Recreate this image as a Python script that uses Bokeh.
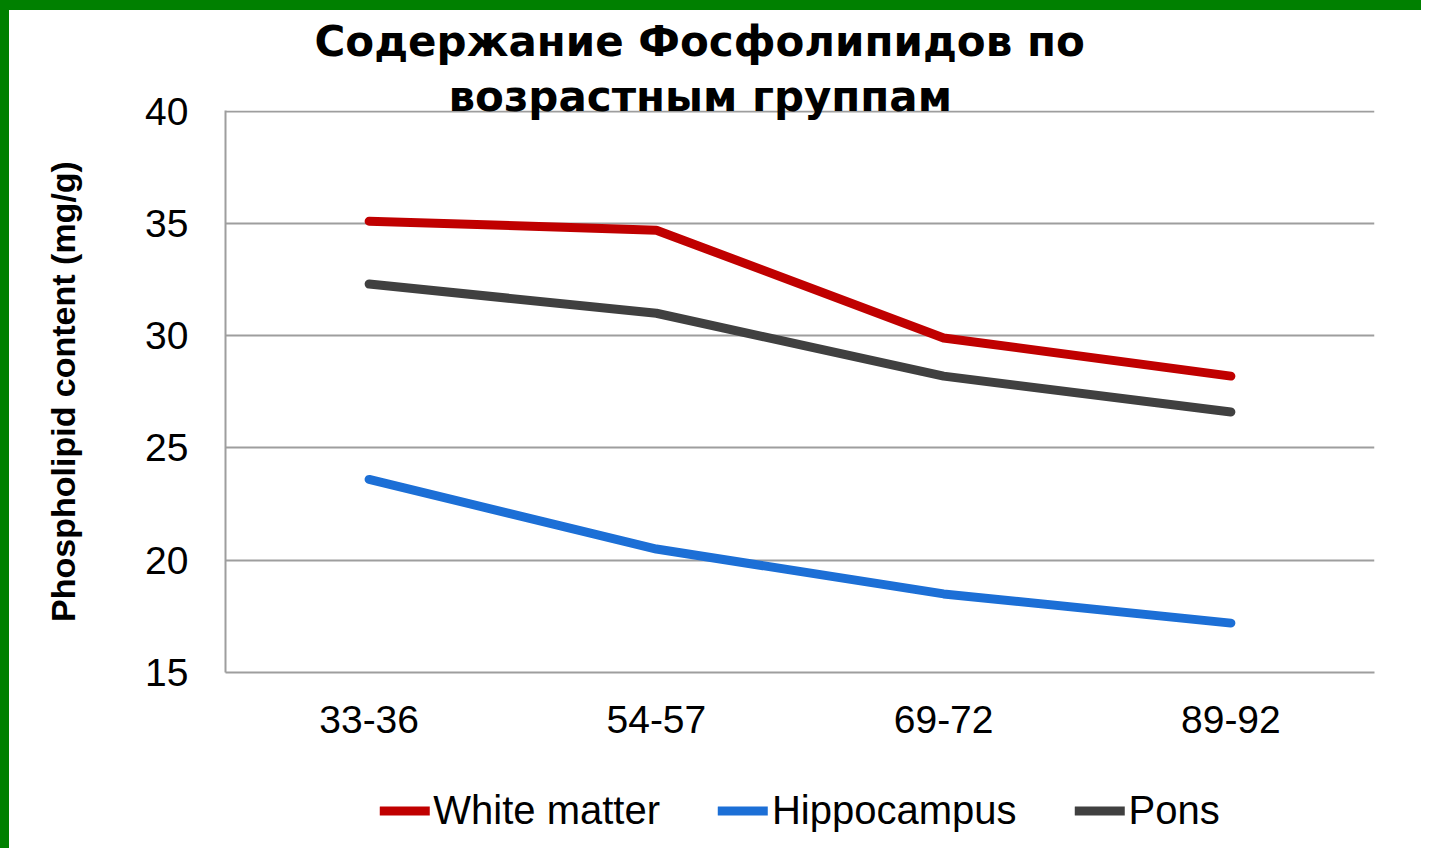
from bokeh.plotting import figure
from bokeh.layouts import column
from bokeh.models import Legend, LegendItem, Title, FactorRange, Range1d, FixedTicker
from bokeh.embed import file_html
from bokeh.resources import INLINE

# ---- data ----
age_groups = ["33-36", "54-57", "69-72", "89-92"]
white_matter = [35.1, 34.7, 29.9, 28.2]
hippocampus = [23.6, 20.5, 18.5, 17.2]
pons = [32.3, 31.0, 28.2, 26.6]
y_ticks = [15, 20, 25, 30, 35, 40]
series_names = ["White matter", "Hippocampus", "Pons"]
title_lines = ["Содержание Фосфолипидов по", "возрастным группам"]
y_label = "Phospholipid content (mg/g)"

colors = ["#C00000", "#1C6FD6", "#404040"]
GRID = "#9E9E9E"
GREEN = "#008000"
FONT = "Liberation Sans"
LW = 9

BL, BT = 9, 10          # green slide border (left, top)
W = 1430 - BL
H_MAIN = 760
H_LEG = 848 - H_MAIN
ML, MR, MT, MB = 225 - BL, 56, 110, H_MAIN - 672

p = figure(width=W, height=H_MAIN,
           x_range=FactorRange(*age_groups, range_padding=0),
           y_range=Range1d(15, 40.03),
           output_backend="svg", toolbar_location=None,
           min_border_left=ML, min_border_right=MR,
           min_border_top=MT, min_border_bottom=MB)
p.styles = {"border-left": f"{BL}px solid {GREEN}",
            "background": f"linear-gradient({GREEN}, {GREEN}) top left / 100% {BT}px no-repeat"}
p.outline_line_color = None
p.background_fill_color = "white"
p.border_fill_alpha = 0

data_renderers = []
for vals, col in zip([white_matter, hippocampus, pons], colors):
    data_renderers.append(p.line(age_groups, vals, line_color=col, line_width=LW,
                                 line_cap="round", line_join="round"))

# grid
p.xgrid.visible = False
p.ygrid.grid_line_color = GRID
p.ygrid.grid_line_width = 2
p.yaxis.ticker = FixedTicker(ticks=y_ticks)

# y axis
ya = p.yaxis[0]
ya.axis_line_color = GRID
ya.axis_line_width = 2
ya.major_tick_out = 0
ya.major_tick_in = 0
ya.minor_tick_out = 0
ya.minor_tick_in = 0
ya.major_label_text_font = FONT
ya.major_label_text_font_size = "39px"
ya.major_label_text_color = "black"
ya.major_label_standoff = 37
ya.axis_label = y_label
ya.axis_label_text_font = FONT
ya.axis_label_text_font_style = "bold"
ya.axis_label_text_font_size = "34px"
ya.axis_label_text_color = "black"
ya.axis_label_standoff = 60

# x axis
xa = p.xaxis[0]
xa.axis_line_color = GRID
xa.axis_line_width = 2
xa.major_tick_out = 0
xa.major_tick_in = 0
xa.minor_tick_out = 0
xa.minor_tick_in = 0
xa.major_label_text_font = FONT
xa.major_label_text_font_size = "39px"
xa.major_label_text_color = "black"
xa.major_label_standoff = 33

# title: two lines; the one added first sits closest to the frame
p.add_layout(Title(text=title_lines[1], align="left", offset=223, standoff=-20,
                   text_font="DejaVu Sans", text_font_style="bold",
                   text_font_size="42px", text_color="black"), "above")
p.add_layout(Title(text=title_lines[0], align="left", offset=89, standoff=27,
                   text_font="DejaVu Sans", text_font_style="bold",
                   text_font_size="42px", text_color="black"), "above")

# legend strip below the chart (its lines lie outside its own view; only the key shows)
q = figure(width=W, height=H_LEG,
           x_range=FactorRange(*age_groups, range_padding=0), y_range=Range1d(-2, -1),
           output_backend="svg", toolbar_location=None,
           x_axis_location=None, y_axis_location=None,
           min_border_left=ML, min_border_right=MR, min_border_top=12, min_border_bottom=0)
q.styles = {"border-left": f"{BL}px solid {GREEN}"}
q.outline_line_color = None
q.xgrid.visible = False
q.ygrid.visible = False
q.border_fill_color = "white"
q.background_fill_color = "white"

items = []
for name, vals, col in zip(series_names, [white_matter, hippocampus, pons], colors):
    r = q.line(age_groups, vals, line_color=col, line_width=LW, line_cap="round")
    items.append(LegendItem(label=name, renderers=[r]))

legend = Legend(items=items, orientation="horizontal", location="center",
                border_line_color=None, background_fill_alpha=0,
                glyph_width=50, glyph_height=40, label_standoff=4, spacing=58,
                padding=0, margin=0,
                label_text_font=FONT, label_text_font_size="40px",
                label_text_color="black")
q.add_layout(legend, "center")

page = column(p, q, spacing=0)
open("out.html", "w").write(file_html(page, INLINE))
